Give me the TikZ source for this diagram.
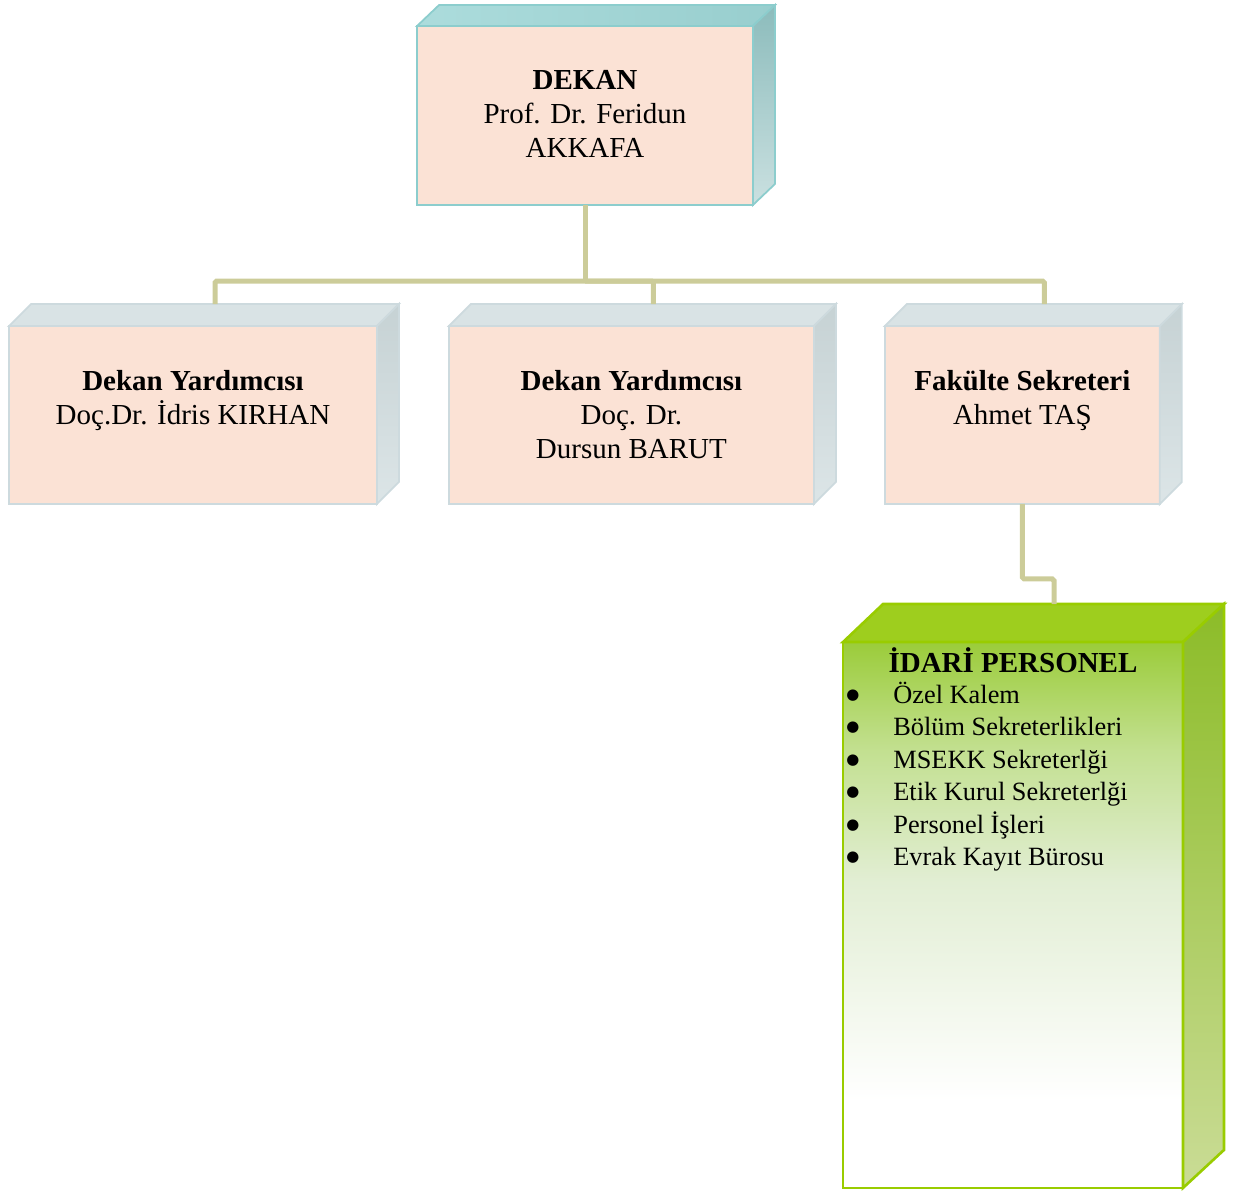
\documentclass[tikz,border=0pt]{standalone}
\usepackage{fontspec}
\setmainfont{Liberation Serif}
\newfontfamily\dejavu{DejaVu Sans}
\usetikzlibrary{calc,positioning}

\definecolor{peach}{RGB}{251,226,213}
\definecolor{tealedge}{RGB}{140,205,205}
\definecolor{tealtopl}{RGB}{172,220,220}
\definecolor{tealtop}{RGB}{152,206,206}
\definecolor{tealside1}{RGB}{140,188,188}
\definecolor{tealside2}{RGB}{202,224,224}
\definecolor{grayedge}{RGB}{205,218,222}
\definecolor{graytop}{RGB}{217,227,229}
\definecolor{grayside1}{RGB}{198,210,212}
\definecolor{grayside2}{RGB}{220,229,231}
\definecolor{linkcol}{RGB}{204,204,153}
\definecolor{limeedge}{RGB}{153,204,0}
\definecolor{limetop}{RGB}{158,206,30}
\definecolor{limeside1}{RGB}{140,188,40}
\definecolor{limeside2}{RGB}{202,220,150}
\definecolor{limefront}{RGB}{155,204,58}
\definecolor{limeup}{RGB}{195,224,145}
\definecolor{limemid}{RGB}{226,238,212}
\pgfdeclareverticalshading{idarishade}{100bp}{color(0bp)=(white); color(33bp)=(white); color(53bp)=(limemid); color(65bp)=(limeup); color(75bp)=(limefront); color(100bp)=(limefront)}
\newcommand{\blt}{\raisebox{2.2pt}{\dejavu\fontsize{8.5}{9}\selectfont ●}}

\begin{document}
\begin{tikzpicture}[x=0.02cm, y=-0.02cm,
		every node/.style={font=\fontsize{16.5}{19.3}\selectfont},
		front/.style={rectangle, draw, fill=peach, inner sep=0pt, outer sep=0pt, line width=1pt},
		lbl/.style={inner sep=0pt, outer sep=0pt, align=center},
		link/.style={draw=linkcol, line width=0.1cm, rounded corners=1pt}]
		\useasboundingbox (0,0) rectangle (1235,1191);

		% front faces
		\node[front, draw=tealedge, minimum width=6.72cm, minimum height=3.58cm] (dekan) at (585,115.5) {};
		\node[front, draw=grayedge, minimum width=7.36cm, minimum height=3.56cm] (yard1) at (193,415) {};
		\node[front, draw=grayedge, minimum width=7.3cm, minimum height=3.56cm, right=1.44cm of yard1] (yard2) {};
		\node[front, draw=grayedge, minimum width=5.5cm, minimum height=3.56cm, right=1.42cm of yard2] (sekr) {};
		\node[front, draw=limeedge, line width=1.5pt, shade, shading=idarishade, minimum width=6.8cm, minimum height=10.92cm] (idari) at (1013,915) {};

		% top and side faces
		\path[draw=tealedge, line width=1pt, left color=tealtopl, right color=tealtop] (dekan.north west) -- ++(22,-21) -- ([shift={(22,-21)}]dekan.north east) -- (dekan.north east) -- cycle;
		\path[draw=tealedge, line width=1pt, top color=tealside1, bottom color=tealside2] (dekan.north east) -- ++(22,-21) -- ([shift={(22,-21)}]dekan.south east) -- (dekan.south east) -- cycle;
		\foreach \b in {yard1,yard2,sekr} {
			\path[draw=grayedge, line width=1pt, fill=graytop] (\b.north west) -- ++(22,-22) -- ([shift={(22,-22)}]\b.north east) -- (\b.north east) -- cycle;
			\path[draw=grayedge, line width=1pt, top color=grayside1, bottom color=grayside2] (\b.north east) -- ++(22,-22) -- ([shift={(22,-22)}]\b.south east) -- (\b.south east) -- cycle;
		}
		\path[draw=limeedge, line width=1.5pt, fill=limetop] (idari.north west) -- ++(40,-38) -- ([shift={(41,-38)}]idari.north east) -- (idari.north east) -- cycle;
		\path[draw=limeedge, line width=1.5pt, top color=limeside1, bottom color=limeside2] (idari.north east) -- ++(41,-38) -- ([shift={(41,-38)}]idari.south east) -- (idari.south east) -- cycle;

		% texts
		\node[lbl, below=0.89cm of dekan.north] (dekantxt) {\textbf{DEKAN}\\Prof. Dr. Feridun\\AKKAFA};
		\node[lbl, below=0.89cm of yard1.north] (yard1txt) {\textbf{Dekan Yardımcısı}\\Doç.Dr. İdris KIRHAN};
		\node[lbl, below=0.89cm of yard2.north] (yard2txt) {\textbf{Dekan Yardımcısı}\\Doç. Dr.\\Dursun BARUT};
		\node[lbl, below=0.89cm of sekr.north] (sekrtxt) {\textbf{Fakülte Sekreteri}\\Ahmet TAŞ};
		\node[anchor=base, inner sep=0pt] (idarititle) at ($(idari.north)+(0,30)$) {\textbf{İDARİ PERSONEL}};
		\node[anchor=base west, inner sep=0pt, font=\fontsize{15}{18.5}\selectfont] (idarilist) at ($(idari.north west)+(3,61)$) {%
			\begin{tabular}[t]{@{}p{0.94cm}@{}l@{}}
				\blt & Özel Kalem\\
				\blt & Bölüm Sekreterlikleri\\
				\blt & MSEKK Sekreterlği\\
				\blt & Etik Kurul Sekreterlği\\
				\blt & Personel İşleri\\
				\blt & Evrak Kayıt Bürosu
			\end{tabular}};

		% connectors
		\coordinate (bus) at (585,281);
		\coordinate (yard1-top) at ([shift={(22,-22)}]yard1.north);
		\coordinate (yard2-top) at ([shift={(22,-22)}]yard2.north);
		\coordinate (sekr-top) at ([shift={(22,-22)}]sekr.north);
		\coordinate (idari-top) at ([shift={(41,-38)}]idari.north);
		\draw[link] (dekan.south) -- (bus);
		\foreach \b in {yard1,yard2,sekr}
			\draw[link] (bus) -| (\b-top);
		\draw[link] (sekr.south) -- ++(0,75) -| (idari-top);
	\end{tikzpicture}
\end{document}
